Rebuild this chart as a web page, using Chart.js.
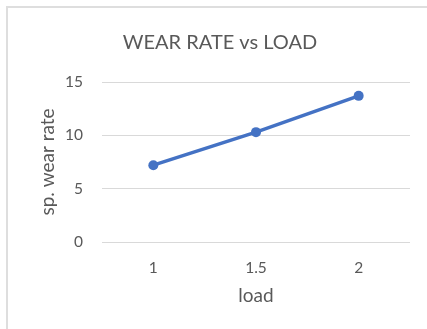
<!DOCTYPE html>
<html>
<head>
<meta charset="utf-8">
<script src="https://cdn.jsdelivr.net/npm/chart.js@4/dist/chart.umd.min.js"></script>
<style>
  html, body { margin: 0; padding: 0; background: #ffffff; }
  #wrap { position: relative; width: 427px; height: 329px; overflow: hidden; }
  #frame {
    position: absolute; left: 6px; top: 6px; width: 440px; height: 340px;
    border-left: 2px solid #dedede; border-top: 2px solid #dedede;
    box-sizing: border-box; pointer-events: none;
  }
  canvas { position: absolute; left: 0; top: 0; }
</style>
</head>
<body>
<div id="wrap">
  <canvas id="c" width="427" height="329"></canvas>
  <div id="frame"></div>
</div>
<script>
// Specific wear rate measured at each load
const loads = ['1', '1.5', '2'];
const wearRate = [7.2, 10.3, 13.7];
const yTicks = [0, 5, 10, 15];

const textColor = '#595959';
const fontFamily = 'Lato, "Open Sans", sans-serif';

new Chart(document.getElementById('c'), {
  type: 'line',
  data: {
    labels: loads,
    datasets: [{
      label: 'sp. wear rate',
      data: wearRate,
      borderColor: '#4472C4',
      backgroundColor: '#4472C4',
      borderWidth: 3.5,
      pointRadius: 5,
      pointHoverRadius: 5,
      pointBackgroundColor: '#4472C4',
      pointBorderWidth: 0,
      tension: 0
    }]
  },
  options: {
    responsive: false,
    animation: false,
    layout: { padding: { left: 30, right: 17, top: 0, bottom: 0 } },
    plugins: {
      legend: { display: false },
      tooltip: { enabled: false },
      title: {
        display: true,
        text: 'WEAR RATE vs LOAD',
        color: textColor,
        font: { family: fontFamily, size: 20, weight: 'normal' },
        padding: { top: 31, bottom: 27 }
      }
    },
    scales: {
      x: {
        offset: true,
        grid: { display: false },
        border: { display: false },
        ticks: {
          color: textColor,
          font: { family: fontFamily, size: 15.5 },
          padding: 9
        },
        title: {
          display: true,
          text: 'load',
          color: textColor,
          font: { family: fontFamily, size: 19 },
          padding: { top: 0, bottom: 22 }
        },
        afterFit: (s) => { s.height = 87; }
      },
      y: {
        min: 0,
        max: 15,
        afterBuildTicks: (s) => { s.ticks = yTicks.map(v => ({ value: v })); },
        grid: { color: '#d9d9d9', lineWidth: 1, drawTicks: false },
        border: { display: false },
        ticks: {
          color: textColor,
          font: { family: fontFamily, size: 15.5 },
          padding: 19
        },
        title: {
          display: true,
          text: 'sp. wear rate',
          color: textColor,
          font: { family: fontFamily, size: 19 },
          padding: { top: 6, bottom: 0 }
        },
        afterFit: (s) => { s.width = 72; }
      }
    }
  }
});
</script>
</body>
</html>
